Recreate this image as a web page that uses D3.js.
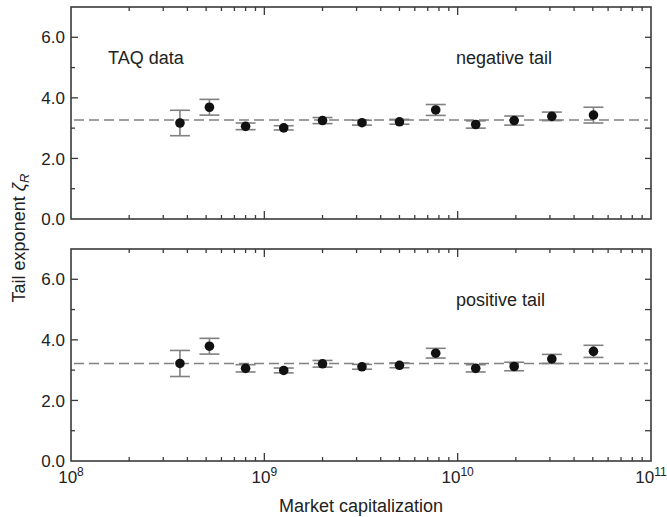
<!DOCTYPE html>
<html>
<head>
<meta charset="utf-8">
<script src="https://cdn.jsdelivr.net/npm/d3@7"></script>
<style>
  html, body { margin: 0; padding: 0; background: #fff; }
  svg { display: block; font-family: "Liberation Sans", Arial, Helvetica, sans-serif; }
</style>
</head>
<body>
<svg id="chart" width="667" height="517"></svg>
<script>
// Market capitalization bins (bin centres)
const marketCap = [3.66e8, 5.2e8, 8.0e8, 1.26e9, 2.0e9, 3.2e9, 5.0e9, 7.7e9, 1.24e10, 1.96e10, 3.07e10, 5.04e10];

// Tail exponents and their error half-widths
const negativeTail = [3.17, 3.69, 3.06, 3.01, 3.25, 3.18, 3.21, 3.60, 3.12, 3.25, 3.39, 3.43];
const negativeErr  = [0.42, 0.26, 0.11, 0.07, 0.10, 0.08, 0.08, 0.18, 0.12, 0.15, 0.14, 0.26];
const positiveTail = [3.22, 3.79, 3.06, 2.99, 3.21, 3.11, 3.16, 3.56, 3.06, 3.12, 3.37, 3.62];
const positiveErr  = [0.43, 0.26, 0.12, 0.08, 0.11, 0.08, 0.08, 0.16, 0.12, 0.14, 0.15, 0.20];

// Average exponent drawn as a dashed reference line
const negativeMean = 3.27;
const positiveMean = 3.22;

const yTickLabels = ["0.0", "2.0", "4.0", "6.0"];
const yTickValues = [0, 2, 4, 6];
const xDecades = [8, 9, 10, 11];

const svg = d3.select("#chart");
const left = 71, right = 651;
const panels = [
  { top: 7,   bottom: 219, values: negativeTail, err: negativeErr, mean: negativeMean, label: "negative tail", showX: false, corner: "TAQ data" },
  { top: 249, bottom: 461, values: positiveTail, err: positiveErr, mean: positiveMean, label: "positive tail", showX: true,  corner: null }
];

const x = d3.scaleLog().domain([1e8, 1e11]).range([left, right]);
const frameColor = "#3a3a3a";
const greyColor = "#808080";

// minor positions for log ticks
const minorX = [];
[8, 9, 10].forEach(d => { for (let m = 2; m <= 9; m++) minorX.push(m * Math.pow(10, d)); });
const majorX = [1e9, 1e10];

panels.forEach(p => {
  const y = d3.scaleLinear().domain([0, 7]).range([p.bottom, p.top]);
  const g = svg.append("g");

  // inward ticks on the four sides
  const tickG = g.append("g").attr("stroke", frameColor).attr("stroke-width", 1.3);
  const xt = (v, len) => {
    tickG.append("line").attr("x1", x(v)).attr("x2", x(v)).attr("y1", p.bottom).attr("y2", p.bottom - len);
    tickG.append("line").attr("x1", x(v)).attr("x2", x(v)).attr("y1", p.top).attr("y2", p.top + len);
  };
  minorX.forEach(v => xt(v, 4));
  majorX.forEach(v => xt(v, 8));
  d3.range(1, 7).forEach(v => {
    const len = v % 2 === 0 ? 7 : 4;
    tickG.append("line").attr("x1", left).attr("x2", left + len).attr("y1", y(v)).attr("y2", y(v));
    tickG.append("line").attr("x1", right).attr("x2", right - 6).attr("y1", y(v)).attr("y2", y(v));
  });

  // frame
  g.append("rect")
    .attr("x", left).attr("y", p.top)
    .attr("width", right - left).attr("height", p.bottom - p.top)
    .attr("fill", "none").attr("stroke", frameColor).attr("stroke-width", 1.6);

  // y tick labels
  g.append("g").selectAll("text").data(yTickValues).join("text")
    .attr("x", left - 6).attr("y", d => y(d)).attr("dy", "0.36em")
    .attr("text-anchor", "end").attr("font-size", 17).attr("fill", "#222")
    .text((d, i) => yTickLabels[i]);

  // dashed mean line
  g.append("line")
    .attr("x1", left + 3).attr("x2", right - 3)
    .attr("y1", y(p.mean)).attr("y2", y(p.mean))
    .attr("stroke", greyColor).attr("stroke-width", 1.5)
    .attr("stroke-dasharray", "10,5");

  // error bars
  const eb = g.append("g").attr("stroke", greyColor).attr("stroke-width", 1.6);
  marketCap.forEach((c, i) => {
    const cx = x(c), hi = y(p.values[i] + p.err[i]), lo = y(p.values[i] - p.err[i]);
    eb.append("line").attr("x1", cx).attr("x2", cx).attr("y1", hi).attr("y2", lo);
    eb.append("line").attr("x1", cx - 10).attr("x2", cx + 10).attr("y1", hi).attr("y2", hi);
    eb.append("line").attr("x1", cx - 10).attr("x2", cx + 10).attr("y1", lo).attr("y2", lo);
  });

  // points
  g.append("g").selectAll("circle").data(marketCap).join("circle")
    .attr("cx", d => x(d)).attr("cy", (d, i) => y(p.values[i]))
    .attr("r", 4.8).attr("fill", "#111");

  // panel annotations
  g.append("text").attr("x", 456).attr("y", p.top + 57)
    .attr("font-size", 18).attr("fill", "#222").text(p.label);
  if (p.corner) {
    g.append("text").attr("x", 108).attr("y", p.top + 57)
      .attr("font-size", 18).attr("fill", "#222").text(p.corner);
  }

  // x tick labels (powers of ten)
  if (p.showX) {
    xDecades.forEach(d => {
      const t = g.append("text").attr("x", x(Math.pow(10, d))).attr("y", p.bottom + 22)
        .attr("text-anchor", "middle").attr("font-size", 17).attr("fill", "#222");
      t.append("tspan").text("10");
      t.append("tspan").attr("font-size", 12).attr("dy", -7).text(d);
    });
  }
});

// axis titles
svg.append("text").attr("x", (left + right) / 2).attr("y", 512)
  .attr("text-anchor", "middle").attr("font-size", 18).attr("fill", "#222")
  .text("Market capitalization");

const yl = svg.append("text")
  .attr("transform", "translate(25,238) rotate(-90)")
  .attr("text-anchor", "middle").attr("font-size", 18).attr("fill", "#222");
yl.append("tspan").text("Tail exponent ");
yl.append("tspan").attr("font-style", "italic").text("ζ");
yl.append("tspan").attr("font-style", "italic").attr("font-size", 13).attr("dy", 4).text("R");
</script>
</body>
</html>
